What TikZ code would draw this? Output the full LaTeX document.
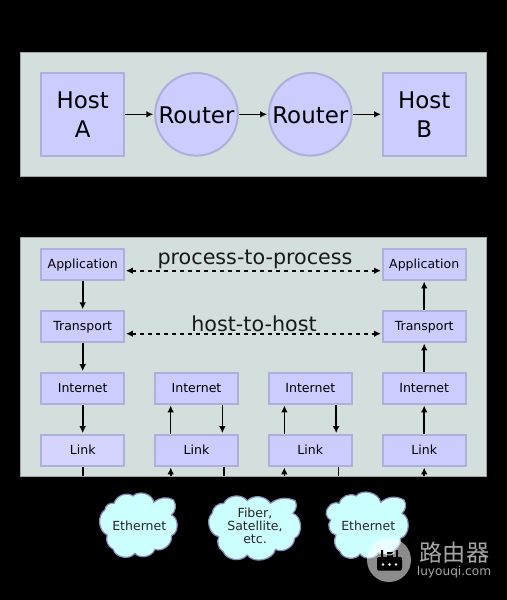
\documentclass[tikz,border=0pt]{standalone}
\usepackage{fontspec}
\setmainfont{DejaVu Sans}
\newfontfamily\cjkfont{Noto Sans CJK SC}
\usetikzlibrary{arrows.meta}
\definecolor{panelc}{HTML}{D3DFDC}
\definecolor{boxc}{HTML}{CCCCFF}
\definecolor{linkc}{HTML}{D4D4FF}
\definecolor{edgec}{HTML}{AFAFDC}
\definecolor{cloudc}{HTML}{CCFFFF}
\definecolor{cloude}{HTML}{8A8ABB}
\definecolor{markc}{HTML}{A6A6A6}
\tikzset{
  x=0.75pt,y=-0.75pt,
  panel/.style={fill=panelc,draw=gray!60!panelc,line width=0.4pt},
  bigbox/.style={draw=edgec,fill=boxc,line width=1.5pt,minimum width=62pt,minimum height=62pt,inner sep=0pt,font=\fontsize{17.2}{21.75}\selectfont,align=center},
  bigcirc/.style={circle,draw=edgec,fill=boxc,line width=1.5pt,minimum size=62pt,inner sep=0pt,text height=16pt,text depth=2.5pt,font=\fontsize{17.2}{21.75}\selectfont},
  layer/.style={draw=edgec,fill=boxc,line width=1.5pt,minimum width=62pt,minimum height=22.8pt,inner sep=0pt,text height=8pt,text depth=2.2pt,font=\fontsize{9.4}{11}\selectfont},
  arr/.style={-{Latex[length=5.2pt,width=5pt]},line width=1.2pt,black,shorten >=0.7pt},
  dotarr/.style={{Latex[length=5.2pt,width=5pt]}-{Latex[length=5.2pt,width=5pt]},line width=1.2pt,black,dash pattern=on 2.8pt off 3.2pt,shorten >=0.7pt,shorten <=0.7pt},
  plain/.style={line width=1.2pt,black},
  cloudshape/.style={fill=cloudc,draw=cloude,line width=0.9pt},
  cloudtext/.style={font=\fontsize{9.4}{9.6}\selectfont,align=center,text=black!85,inner sep=0pt},
  banner/.style={font=\fontsize{15.5}{20}\selectfont,inner sep=0pt,text=black!90,anchor=base},
}
\begin{document}
\begin{tikzpicture}
\fill[black] (0,0) rectangle (507,600);
\useasboundingbox (0,0) rectangle (507,600);
\path[panel] (20.5,52) rectangle (486.5,176.5);
\path[panel] (20.5,237.5) rectangle (486.5,476);

\node[bigbox] (hosta) at (82.7,114.3) {Host\\A};
\node[bigcirc] (r1) at (196.5,114.3) {Router};
\node[bigcirc] (r2) at (310.3,114.3) {Router};
\node[bigbox] (hostb) at (424.2,114.3) {Host\\B};
\draw[arr] (hosta) -- (r1);
\draw[arr] (r1) -- (r2);
\draw[arr] (r2) -- (hostb);

\node[layer] (a1) at (82.7,264.4) {Application};
\node[layer] (t1) at (82.7,326.4) {Transport};
\node[layer] (i1) at (82.7,388.3) {Internet};
\node[layer,fill=linkc] (l1) at (82.7,450.3) {Link};
\node[layer] (i2) at (196.5,388.3) {Internet};
\node[layer] (l2) at (196.5,450.3) {Link};
\node[layer] (i3) at (310.3,388.3) {Internet};
\node[layer] (l3) at (310.3,450.3) {Link};
\node[layer] (a4) at (424.2,264.4) {Application};
\node[layer] (t4) at (424.2,326.4) {Transport};
\node[layer] (i4) at (424.2,388.3) {Internet};
\node[layer] (l4) at (424.2,450.3) {Link};

\draw[arr] (a1) -- (t1);
\draw[arr] (t1) -- (i1);
\draw[arr] (i1) -- (l1);
\draw[arr] ([xshift=-19.4pt]l2.north) -- ([xshift=-19.4pt]i2.south);
\draw[arr] ([xshift=19.4pt]i2.south) -- ([xshift=19.4pt]l2.north);
\draw[arr] ([xshift=-19.4pt]l3.north) -- ([xshift=-19.4pt]i3.south);
\draw[arr] ([xshift=19.4pt]i3.south) -- ([xshift=19.4pt]l3.north);
\draw[arr] (l4) -- (i4);
\draw[arr] (i4) -- (t4);
\draw[arr] (t4) -- (a4);

\coordinate (d1) at (82.7,476);
\coordinate (u2) at (170.7,476);
\coordinate (d2) at (224,476);
\coordinate (u3) at (284.3,476);
\coordinate (d3) at (338.3,476);
\coordinate (u4) at (424.2,476);
\draw[plain] (l1) -- (d1);
\draw[plain] (l2.south -| d2) -- (d2);
\draw[plain] (l3.south -| d3) -- (d3);
\draw[arr] (u2) -- (l2.south -| u2);
\draw[arr] (u3) -- (l3.south -| u3);
\draw[arr] (u4) -- (l4);

\coordinate (pl) at (a1.east |- 0,270.7);
\coordinate (pr) at (a4.west |- 0,270.7);
\coordinate (hl) at (t1.east |- 0,333.7);
\coordinate (hr) at (t4.west |- 0,333.7);
\draw[dotarr] (pl) -- (pr);
\draw[dotarr] (hl) -- (hr);
\node[banner] (ptext) at (255,264.3) {process-to-process};
\node[banner] (htext) at (254,331.7) {host-to-host};

% clouds, in 3x zoom coordinates
\begin{scope}[shift={(91.5,470)},x=0.25pt,y=-0.25pt]
\draw[cloudshape] (68,100) to[bend left=55] (125,78) to[bend left=65] (187,97) to[bend left=35] (246,90)
  to[bend left=40] (240,135) to[bend left=70] (240,197) to[bend left=60] (190,238) to[bend left=60] (130,250)
  to[bend left=65] (65,238) to[bend left=40] (47,195) to[bend left=60] (40,120) to[bend left=50] cycle;
\end{scope}
\begin{scope}[shift={(90.5,470)},x=0.25pt,y=-0.25pt]
\draw[cloudshape] (400,100) to[bend left=60] (470,92) to[bend left=50] (540,100) to[bend left=30] (614,92)
  to[bend left=35] (607,130) to[bend left=70] (612,205) to[bend left=60] (555,238) to[bend left=65] (470,255)
  to[bend left=60] (398,245) to[bend left=40] (385,200) to[bend left=65] (365,130) to[bend left=45] cycle;
\end{scope}
\begin{scope}[shift={(310,470)},x=0.25pt,y=-0.25pt]
\draw[cloudshape] (88,100) to[bend left=55] (138,78) to[bend left=65] (212,97) to[bend left=35] (282,90)
  to[bend left=40] (276,130) to[bend left=70] (272,205) to[bend left=60] (205,248) to[bend left=60] (150,252)
  to[bend left=65] (90,245) to[bend left=40] (78,195) to[bend left=65] (62,150) to[bend left=60] (55,112) to[bend left=40] cycle;
\end{scope}
\node[cloudtext] (c1) at (139.3,525.5) {Ethernet};
\node[cloudtext,font=\fontsize{9.4}{9.8}\selectfont] (c2) at (255,525.7) {Fiber,\\Satellite,\\etc.};
\node[cloudtext] (c3) at (368.3,525.5) {Ethernet};

% watermark
\fill[white,opacity=0.55] (389,560) circle (22);
\fill[black] (377,557) [rounded corners=1pt] rectangle (402,570.5);
\fill[black] (381,550) rectangle (383,558) (396,550) rectangle (398,558);
\fill[black] (386.5,552) rectangle (392.5,558);
\draw[white,line width=0.7pt,opacity=0.8] (384,552) arc[start angle=150,end angle=30,radius=6];
\foreach \dx in {-6.5,0,6.5}{\fill[white] (389.5+\dx,564.5) circle (1.3);}
\node[font=\cjkfont\fontsize{17.4}{20}\selectfont,text=markc,inner sep=0pt] (wm) at (454.5,553) {路由器};
\node[font=\fontsize{9.1}{11}\selectfont,text=markc,inner sep=0pt] (wu) at (454,572) {luyouqi.com};
\end{tikzpicture}
\end{document}
